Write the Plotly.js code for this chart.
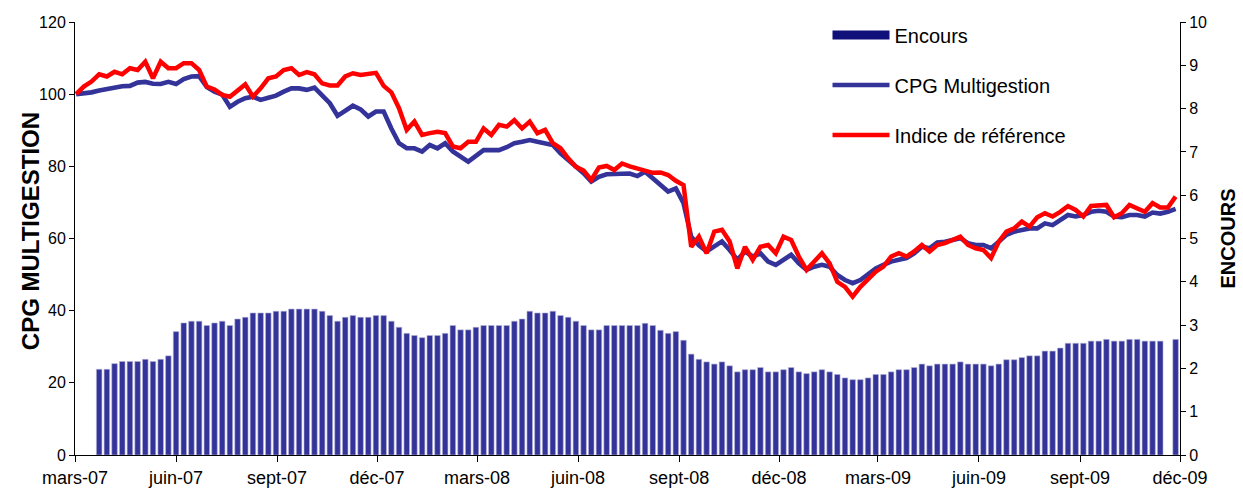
<!DOCTYPE html>
<html>
<head>
<meta charset="utf-8">
<script src="https://cdn.plot.ly/plotly-3.0.1.min.js"></script>
<style>
  html, body { margin: 0; padding: 0; background: #fff; }
  #chart { width: 1243px; height: 494px; }
</style>
</head>
<body>
<div id="chart"></div>
<script>
// Weekly observations, first week starting 2 March 2007
const startDate = '2007-03-02';
const weekCount = 144;

const tickDates = ['2007-03-01','2007-06-01','2007-09-01','2007-12-01','2008-03-01','2008-06-01',
                   '2008-09-01','2008-12-01','2009-03-01','2009-06-01','2009-09-01','2009-12-01'];
const tickLabels = ['mars-07','juin-07','sept-07','déc-07','mars-08','juin-08',
                    'sept-08','déc-08','mars-09','juin-09','sept-09','déc-09'];

// CPG Multigestion (base 100)
const cpg = [
  100.0,100.2,100.5,101.0,101.5,102.0,102.2,102.3,103.2,103.4,
  102.9,102.8,103.4,102.8,104.2,104.9,105.0,102.0,100.7,99.9,
  96.5,97.9,98.9,99.3,98.4,99.0,99.6,100.7,101.6,101.6,
  101.2,101.8,99.8,97.5,94.0,95.3,96.8,95.8,93.8,95.2,
  95.2,90.5,86.4,85.0,85.0,84.1,85.9,85.0,86.4,84.1,
  82.7,81.3,82.9,84.5,84.5,84.5,85.3,86.4,86.8,87.3,
  86.8,86.4,85.9,83.6,81.8,79.7,78.1,75.8,77.1,77.8,
  77.8,78.0,78.0,77.3,78.5,76.7,75.0,73.0,73.9,69.8,
  60.5,58.1,56.4,57.7,59.2,56.8,54.1,56.4,55.0,55.9,
  53.6,52.7,54.1,55.5,53.1,51.3,52.2,52.7,52.2,49.9,
  48.5,47.6,48.5,50.3,51.7,52.7,53.6,54.1,54.6,55.9,
  57.7,57.3,58.9,59.1,59.6,60.1,58.7,58.2,58.2,57.3,
  59.1,61.0,61.9,62.4,62.8,62.8,64.2,63.7,65.1,66.5,
  66.1,66.5,67.4,67.7,67.4,66.1,65.9,66.5,66.5,66.1,
  67.2,66.9,67.4,68.2
];

// Indice de référence (base 100)
const indice = [
  100.0,102.1,103.5,105.5,104.9,106.2,105.5,107.2,106.7,109.0,
  104.4,109.0,107.2,107.2,108.6,108.6,106.7,102.1,101.3,99.8,
  99.3,101.2,102.7,99.3,101.6,104.4,104.9,106.7,107.2,105.3,
  106.1,105.5,103.0,102.4,102.4,104.9,105.8,105.3,105.5,105.9,
  102.3,100.5,96.1,90.1,92.4,88.7,89.2,89.6,89.2,85.5,
  85.0,86.8,86.8,90.5,88.7,91.5,91.0,92.8,90.5,92.4,
  89.2,90.1,86.4,85.0,82.2,79.9,78.8,76.2,79.7,80.1,
  79.0,80.8,80.0,79.5,79.0,78.2,78.3,77.6,76.0,74.8,
  57.7,60.5,55.9,61.9,62.4,59.2,51.7,57.7,54.1,57.7,
  58.2,55.9,60.5,59.6,55.0,51.3,53.6,55.9,53.1,48.0,
  46.6,43.9,46.6,48.9,50.8,52.2,55.0,55.9,55.0,56.4,
  58.2,56.4,58.2,58.7,59.6,60.5,58.2,57.3,56.8,54.6,
  59.1,61.9,62.8,64.7,63.3,65.9,67.0,66.1,67.4,69.0,
  67.9,66.1,69.0,69.3,69.3,65.9,67.0,69.3,68.4,67.4,
  69.8,68.6,68.6,71.6
];

// Encours (right axis)
const encours = [
  null,null,null,
  1.98,1.98,2.11,2.16,2.16,2.16,2.21,2.16,2.21,2.29,
  2.85,3.05,3.09,3.09,2.99,3.05,3.09,2.99,3.14,3.18,
  3.28,3.28,3.28,3.32,3.32,3.37,3.37,3.37,3.37,3.32,
  3.22,3.09,3.18,3.22,3.18,3.18,3.22,3.22,3.09,2.95,
  2.81,2.76,2.71,2.76,2.76,2.81,2.99,2.89,2.89,2.95,
  2.99,2.99,2.99,2.99,3.09,3.14,3.32,3.28,3.28,3.32,
  3.22,3.18,3.09,2.99,2.89,2.89,2.99,2.99,
  2.99,2.99,2.99,3.04,2.99,2.88,2.81,2.85,2.65,
  2.33,2.21,2.15,2.10,2.15,2.06,1.92,1.97,1.97,2.02,
  1.92,1.92,1.97,2.02,1.92,1.88,1.92,1.97,1.92,1.86,
  1.78,1.74,1.74,1.78,1.86,1.86,1.92,1.97,1.97,2.02,
  2.10,2.06,2.10,2.10,2.10,2.15,2.10,2.10,2.10,2.06,
  2.10,2.20,2.20,2.25,2.29,2.29,2.40,2.40,2.47,2.58,
  2.58,2.58,2.63,2.63,2.67,2.63,2.63,2.67,2.67,2.63,
  2.63,2.63,null,2.67
];

// weekly date axis
const dates = [];
const t0 = Date.parse(startDate + 'T00:00:00Z');
for (let i = 0; i < weekCount; i++) {
  dates.push(new Date(t0 + i * 7 * 86400000).toISOString().slice(0, 10));
}

const FONT = 'Liberation Sans, Arial, sans-serif';
const BLUE = '#333399';
const RED = '#ff0000';

const traces = [
  {
    type: 'bar', x: dates, y: encours, yaxis: 'y2', name: 'Encours',
    marker: { color: BLUE, line: { color: '#b4b4d6', width: 0.6 } },
    showlegend: false, legendgroup: 'a', hoverinfo: 'x+y'
  },
  {
    type: 'scatter', mode: 'lines', x: [null], y: [null], yaxis: 'y2', name: 'Encours',
    line: { color: '#10107a', width: 9 }, legendgroup: 'a', showlegend: true
  },
  {
    type: 'scatter', mode: 'lines', x: dates, y: cpg, name: 'CPG Multigestion',
    line: { color: BLUE, width: 4.6 }, legendgroup: 'b'
  },
  {
    type: 'scatter', mode: 'lines', x: dates, y: indice, name: 'Indice de référence',
    line: { color: RED, width: 4.5 }, legendgroup: 'c'
  }
];

const layout = {
  width: 1243, height: 494,
  margin: { l: 75, r: 63, t: 22, b: 39 },
  paper_bgcolor: '#fff', plot_bgcolor: '#fff',
  font: { family: FONT, color: '#000', size: 16 },
  bargap: 0.28,
  showlegend: true,
  legend: {
    x: 0.681, y: 1.015, xanchor: 'left', yanchor: 'top',
    font: { family: FONT, size: 20, color: '#000' },
    itemwidth: 57, traceorder: 'grouped', tracegroupgap: 21,
    bgcolor: 'rgba(0,0,0,0)'
  },
  annotations: [{
    text: '<b>CPG MULTIGESTION</b>', textangle: -90, showarrow: false,
    xref: 'paper', yref: 'paper', x: -0.0407, y: 0.517,
    xanchor: 'center', yanchor: 'middle',
    font: { family: FONT, size: 24, color: '#000' }
  }],
  xaxis: {
    type: 'date', range: ['2007-03-01', '2009-12-01'],
    tickmode: 'array', tickvals: tickDates, ticktext: tickLabels,
    ticks: 'outside', ticklen: 6, tickcolor: '#000',
    showline: true, linecolor: '#000', linewidth: 1,
    showgrid: false, zeroline: false,
    tickfont: { family: FONT, size: 18, color: '#000' }
  },
  yaxis: {
    range: [0, 120], dtick: 20, tick0: 0,
    ticks: 'outside', ticklen: 5, tickcolor: '#000',
    showline: true, linecolor: '#000', linewidth: 1,
    showgrid: false, zeroline: false,
    tickfont: { family: FONT, size: 16, color: '#000' }
  },
  yaxis2: {
    overlaying: 'y', side: 'right', range: [0, 10], dtick: 1, tick0: 0,
    ticks: 'outside', ticklen: 5, tickcolor: '#000',
    showline: true, linecolor: '#000', linewidth: 1,
    showgrid: false, zeroline: false,
    tickfont: { family: FONT, size: 16, color: '#000' },
    title: { text: '<b>ENCOURS</b>', font: { family: FONT, size: 20, color: '#000' }, standoff: 14 }
  }
};

Plotly.newPlot('chart', traces, layout, { displayModeBar: false, staticPlot: true });
</script>
</body>
</html>
